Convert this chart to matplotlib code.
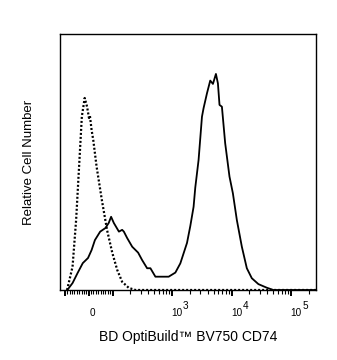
import matplotlib
matplotlib.use("Agg")
import matplotlib.pyplot as plt
from matplotlib.ticker import FixedLocator, NullFormatter

plt.rcParams['font.family'] = ['Liberation Sans', 'DejaVu Sans']

# Data (x in fluorescence units, y in % of max axis height)
solid_x = [-90, -68, -47, -25, -3, 12, 26, 48, 70, 84, 94, 105, 128, 145, 155, 176, 214,
           269, 314, 381, 433, 525, 637, 877, 1136, 1377, 1783, 2026, 2300, 2455, 2790,
           3181, 3383, 3857, 4380, 4862, 5458, 5896, 6271, 6880, 7811, 9225, 10515,
           12270, 14880, 18040, 21880, 28225, 39000, 50350, 262144]
solid_y = [0, 2.7, 6.6, 10.5, 12.5, 15.6, 19.5, 22.8, 24.2, 26.2, 28.6, 26.2, 22.8, 23.5,
           22.8, 20.3, 16.9, 14.6, 11.7, 8.5, 8.5, 5.2, 5.2, 5.2, 6.8, 10.4, 18.4, 25,
           32.5, 40, 50.8, 67.7, 71, 76.8, 81.8, 80.5, 84.4, 80.7, 72.3, 71.6, 57.3, 44.3,
           37.8, 27.3, 16.9, 8.5, 4.6, 2.3, 0.9, 0, 0]

dotted_x = [-91, -68, -53, -39, -29, -17, -7, 1, 5, 12, 19, 33, 55, 77, 99, 120, 145,
            188, 243, 262144]
dotted_y = [0, 9.1, 27.3, 50.8, 67.7, 75, 71.6, 67.2, 68, 62.5, 58.6, 48.2, 35.2, 23.4,
            14.5, 7.8, 3.2, 0.8, 0, 0]

major_ticks = [-100, 0, 100, 1000, 10000, 100000]
tick_bases = ['', '0', '', '10', '10', '10']
tick_exps = ['', '', '', '3', '4', '5']
minor_ticks = ([-v for v in range(10, 100, 10)] + list(range(10, 100, 10)) +
               list(range(200, 1000, 100)) + list(range(2000, 10000, 1000)) +
               list(range(20000, 100000, 10000)) + [200000])
x_label = "BD OptiBuild™ BV750 CD74"
y_label = "Relative Cell Number"

W, H = 337, 360
fig = plt.figure(figsize=(W / 100, H / 100), dpi=100)
ax = fig.add_axes([60 / W, (H - 290) / H, 256 / W, 256 / H])

ax.plot(solid_x, solid_y, color='black', lw=1.3, solid_joinstyle='round')
ax.plot(dotted_x, dotted_y, color='black', lw=1.6, linestyle=(0, (0.9, 0.9)))

ax.set_xscale('symlog', linthresh=100, linscale=0.36)
ax.set_xlim(-121, 262144)
ax.set_ylim(0, 100)

ax.xaxis.set_major_locator(FixedLocator(major_ticks))
ax.xaxis.set_minor_locator(FixedLocator(minor_ticks))
ax.xaxis.set_major_formatter(NullFormatter())
ax.xaxis.set_minor_formatter(NullFormatter())
ax.tick_params(axis='x', which='major', direction='out', length=4.3, width=1.4)
ax.tick_params(axis='x', which='minor', direction='out', length=2.6, width=0.8)
ax.set_yticks([])
for s in ax.spines.values():
    s.set_linewidth(1.0)

base_y = (290 - 316.5) / 256
for t, b, e in zip(major_ticks, tick_bases, tick_exps):
    if not b:
        continue
    ax.annotate(b, xy=(t, base_y), xycoords=('data', 'axes fraction'),
                xytext=(1 if e == '' else -0.5, 0), textcoords='offset pixels',
                ha='left', va='baseline', fontsize=7.2)
    if e:
        ax.annotate(e, xy=(t, base_y), xycoords=('data', 'axes fraction'),
                    xytext=(11, 7.5), textcoords='offset pixels',
                    ha='left', va='baseline', fontsize=7.2)

xl = ax.set_xlabel(x_label, fontsize=10, va='baseline')
ax.xaxis.set_label_coords(0.5, (290 - 341) / 256)
yl = ax.set_ylabel(y_label, fontsize=9.5, va='center')
ax.yaxis.set_label_coords((28.5 - 60) / 256, 0.5)

fig.savefig('out.png', dpi=100)
